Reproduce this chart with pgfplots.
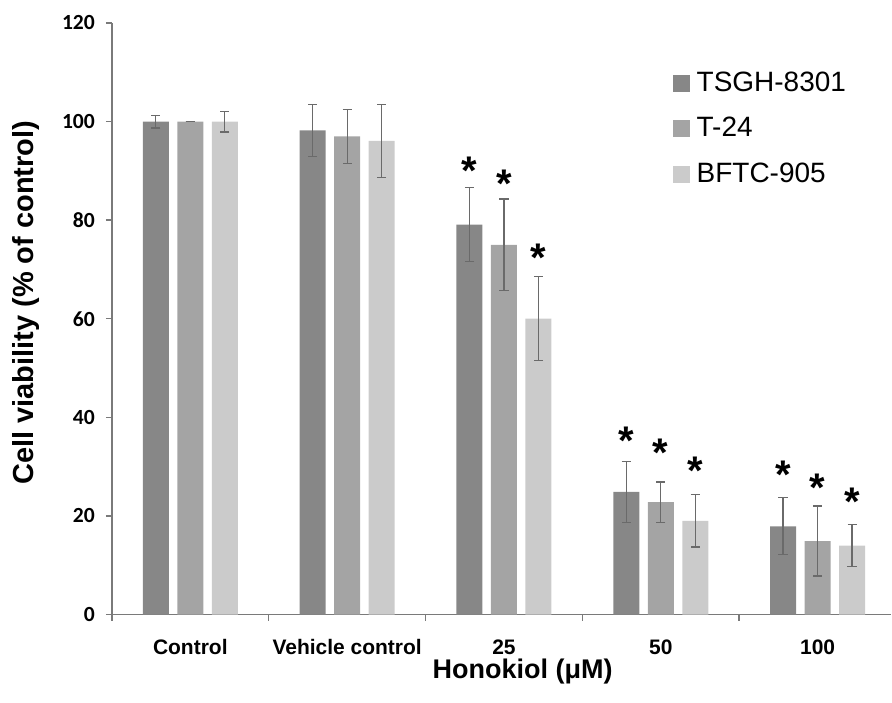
\documentclass[border=0pt]{standalone}
\usepackage{fontspec}
\setmainfont{Liberation Sans}
\newfontfamily\calibri{Carlito}
\usepackage{pgfplots}
\pgfplotsset{compat=1.18}
\definecolor{cTSGH}{HTML}{878787}
\definecolor{cT}{HTML}{A4A4A4}
\definecolor{cBFTC}{HTML}{CBCBCB}
\definecolor{errgray}{HTML}{6A6A6A}
\definecolor{axgray}{HTML}{7A7A7A}
\begin{document}
\begin{tikzpicture}
\begin{axis}[
  scale only axis,
  width=390pt, height=296pt,
  xmin=-0.5, xmax=4.47,
  ymin=0, ymax=120,
  ytick={0,20,...,120},
  axis x line*=bottom, axis y line*=left,
  axis line style={-, axgray, line width=0.7pt},
  tick style={axgray, line width=0.7pt},
  tick align=outside,
  major tick length=3pt,
  minor tick length=3pt,
  xtick={0,...,4},
  xticklabels={Control, Vehicle control, 25, 50, 100},
  major x tick style={draw=none},
  minor xtick={-0.5,0.5,1.5,2.5,3.5},
  xticklabel style={font=\bfseries\fontsize{10.5}{12}\selectfont, anchor=base, yshift=-17pt},
  /pgf/number format/assume math mode=true,
  yticklabel style={font=\calibri\bfseries\fontsize{10.8}{12}\selectfont, xshift=-2pt},
  xlabel={Honokiol (μM)},
  ylabel={Cell viability (\% of control)},
  xlabel style={font=\bfseries\fontsize{13.5}{15}\selectfont, at={(axis description cs:0.527,0)}, anchor=center, yshift=-28.5pt},
  ylabel style={font=\bfseries\fontsize{14.5}{16}\selectfont, at={(axis description cs:-0.110,0.527)}, anchor=center},
  bar width=0.166,
  legend style={draw=none, fill=none, at={(axis description cs:0.719,0.925)}, anchor=north west,
    font=\fontsize{14}{16}\selectfont, row sep=7.5pt, inner sep=0pt,
    nodes={inner xsep=3.5pt, inner ysep=2pt}},
  legend cell align=left,
  legend image code/.code={\fill[#1] (0pt,-4.25pt) rectangle (8.5pt,4.25pt);},
  error bars/error bar style={errgray, line width=0.6pt},
  error bars/error mark options={rotate=90, errgray, line width=0.6pt, mark size=2.3pt},
]
\addplot[ybar, bar shift=0, fill=cTSGH, draw=none,
  error bars/.cd, y dir=both, y explicit]
  coordinates {(-0.22,100) +- (0,1.3) (0.78,98.2) +- (0,5.3) (1.78,79.1) +- (0,7.5) (2.78,24.9) +- (0,6.2) (3.78,17.9) +- (0,5.8)};
\addplot[ybar, bar shift=0, fill=cT, draw=none,
  error bars/.cd, y dir=both, y explicit]
  coordinates {(0,100) +- (0,0) (1,97.0) +- (0,5.5) (2,75.0) +- (0,9.3) (3,22.8) +- (0,4.1) (4,14.9) +- (0,7.1)};
\addplot[ybar, bar shift=0, fill=cBFTC, draw=none,
  error bars/.cd, y dir=both, y explicit]
  coordinates {(0.22,100) +- (0,2.1) (1.22,96.1) +- (0,7.4) (2.22,60.0) +- (0,8.5) (3.22,19.0) +- (0,5.3) (4.22,14.0) +- (0,4.2)};
% significance asterisks
\addplot[draw=none, forget plot, nodes near coords={\bfseries\fontsize{20}{20}\selectfont *},
  every node near coord/.append style={anchor=base, yshift=-11.6pt, inner sep=0pt}]
  coordinates {(1.78,91.9) (2,89.2) (2.22,74.3)
               (2.78,37.2) (3,34.7) (3.22,31.1)
               (3.78,30.3) (4,27.6) (4.22,24.7)};
\legend{TSGH-8301, T-24, BFTC-905}
\end{axis}
\path ([xshift=-56pt,yshift=-44pt]current axis.south west) rectangle ([yshift=11.5pt]current axis.north east);
\end{tikzpicture}
\end{document}
